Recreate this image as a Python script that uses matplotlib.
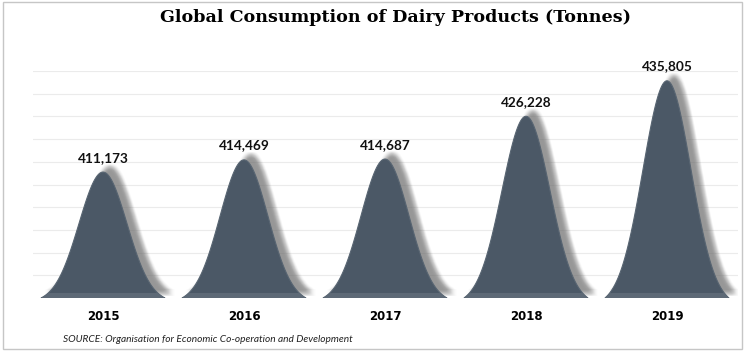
import numpy as np
import matplotlib.pyplot as plt
from matplotlib.patches import Polygon, Rectangle
from matplotlib import transforms

years = ['2015', '2016', '2017', '2018', '2019']
consumption = [411173, 414469, 414687, 426228, 435805]

title = 'Global Consumption of Dairy Products (Tonnes)'
source = 'SOURCE: Organisation for Economic Co-operation and Development'

y_min, y_max = 377200, 438450
W, H = 744, 353

fig = plt.figure(figsize=(W / 100, H / 100), dpi=100)
ax = fig.add_axes([32.5 / W, 55 / H, 705 / W, 227 / H])
ax.set_xlim(-0.5, len(years) - 0.5)
ax.set_ylim(y_min, y_max)

# faint horizontal grid, under the shadows
for g in np.linspace(y_min, y_max, 11)[1:]:
    ax.axhline(g, color='#ebebeb', lw=0.8, zorder=0)

half_w, sigma = 0.44, 0.17


def peak_shape(i, v):
    xs = np.linspace(-half_w, half_w, 240)
    g = np.exp(-0.5 * (xs / sigma) ** 2)
    g0 = np.exp(-0.5 * (half_w / sigma) ** 2)
    f = (g - g0) / (1 - g0)
    return np.column_stack([i + xs, y_min + f * (v - y_min)])


for i, v in enumerate(consumption):
    pts = peak_shape(i, v)
    # soft drop shadow, up and to the right
    for dx in range(-3, 4):
        for dy in range(-3, 4):
            tr = transforms.offset_copy(ax.transData, fig=fig, x=7 + dx, y=5 + dy, units='dots')
            ax.add_patch(Polygon(pts, closed=True, facecolor='#7a7a7a', edgecolor='none',
                                 alpha=0.024, transform=tr, zorder=1))
    body = Polygon(pts, closed=True, facecolor='#4b5866', edgecolor='#586572', lw=0.8, zorder=3)
    ax.add_patch(body)
    # lighter bevel along the base
    band = Rectangle((i - half_w, 0), 2 * half_w, 0.022, facecolor='#5d6976', edgecolor='none',
                     transform=transforms.blended_transform_factory(ax.transData, ax.transAxes),
                     zorder=4)
    ax.add_patch(band)
    band.set_clip_path(body)
    ax.annotate(f'{v:,}', (i, v), xytext=(0, 6), textcoords='offset points',
                ha='center', va='bottom', fontsize=9.8, fontweight='bold',
                fontfamily='Lato', color='#111111', zorder=5)

ax.set_xticks(range(len(years)))
ax.set_xticklabels(years, fontfamily='Liberation Sans Narrow', fontweight='bold', fontsize=8.5)
ax.tick_params(axis='x', length=0, pad=9)
ax.set_yticks([])
for s in ax.spines.values():
    s.set_visible(False)

fig.text(395 / W, 1 - 17 / H, title, ha='center', va='center', fontfamily='DejaVu Serif',
         fontweight='bold', fontsize=12.6)
fig.text(63 / W, 1 - 340 / H, source, ha='left', va='center', fontfamily='Lato',
         fontstyle='italic', fontsize=7.3, color='#222222')

fig.add_artist(Rectangle((2.5 / W, 4 / H), 739 / W, 347 / H, transform=fig.transFigure,
                         facecolor='none', edgecolor='#c6c6c6', lw=1))

fig.savefig('out.png', dpi=100)
